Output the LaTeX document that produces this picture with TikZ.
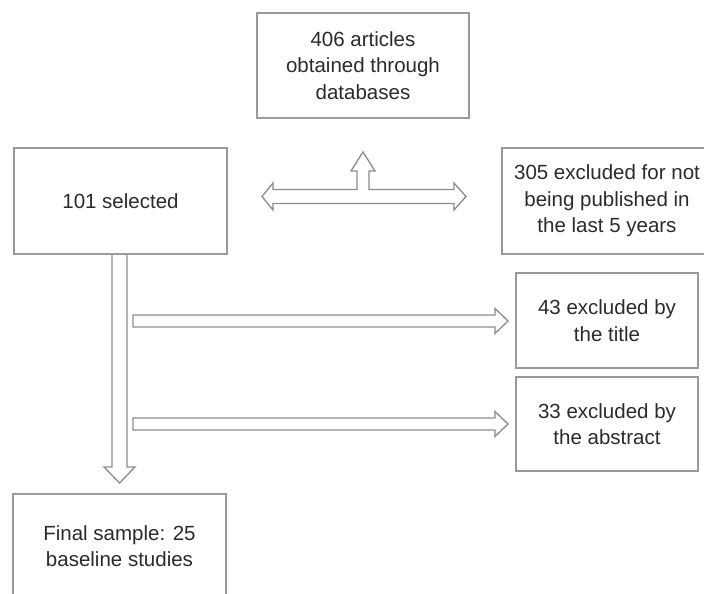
\documentclass[tikz,border=0pt]{standalone}
\usepackage{fontspec}
\setmainfont{Liberation Sans}
\definecolor{boxline}{HTML}{9A9A9A}
\definecolor{arrline}{HTML}{8C8C8C}
\definecolor{txt}{HTML}{2B2B2B}
\tikzset{
  flowbox/.style={draw=boxline, line width=1.5pt, fill=white, rectangle, inner sep=0pt,
    align=center, text=txt, font=\fontsize{20.5}{26.5}\selectfont},
  blockarrow/.style={draw=arrline, line width=1.3pt, fill=white, line join=miter}
}
\begin{document}
\begin{tikzpicture}[x=1pt,y=-1pt]
\path[use as bounding box] (0,0) rectangle (704,594);
\clip (0,0) rectangle (704,594);
\fill[white] (0,0) rectangle (704,594);

% boxes
\node[flowbox, minimum width=212pt, minimum height=105pt] (db) at (363,65.5)
  {406 articles\\obtained through\\databases};
\node[flowbox, minimum width=213pt, minimum height=106pt] (sel) at (120.5,201)
  {101 selected};
\node[flowbox, minimum width=210pt, minimum height=106pt] (ex305) at (607,201)
  {305 excluded for not\\being published in\\the last 5 years};
\node[flowbox, minimum width=182pt, minimum height=95pt] (ex43) at (607,320.5)
  {43 excluded by\\the title};
\node[flowbox, minimum width=182pt, minimum height=94pt] (ex33) at (607,424)
  {33 excluded by\\the abstract};
\node[flowbox, minimum width=213pt, minimum height=104pt] (fin) at (119.5,546)
  {Final sample: 25\\baseline studies};

% T-shaped double arrow between sel, db and ex305
\draw[blockarrow] (262,196.5) -- (273,183) -- (273,189.5) -- (357,189.5) -- (357,171)
  -- (351,171) -- (363,152) -- (375,171) -- (369,171) -- (369,189.5) -- (454,189.5)
  -- (454,183) -- (466,196.5) -- (454,210) -- (454,203.5) -- (273,203.5) -- (273,210) -- cycle;

% vertical arrow from sel to fin
\draw[blockarrow] (112,255) -- (112,467) -- (104,467) -- (119.5,483) -- (135,467)
  -- (127,467) -- (127,255);

% horizontal arrows to ex43 and ex33
\draw[blockarrow] (133,315) -- (495,315) -- (495,308.5) -- (508,321) -- (495,333.5)
  -- (495,327) -- (133,327) -- cycle;
\draw[blockarrow] (133,418) -- (495,418) -- (495,411.5) -- (508,424) -- (495,436.5)
  -- (495,430) -- (133,430) -- cycle;
\end{tikzpicture}
\end{document}
